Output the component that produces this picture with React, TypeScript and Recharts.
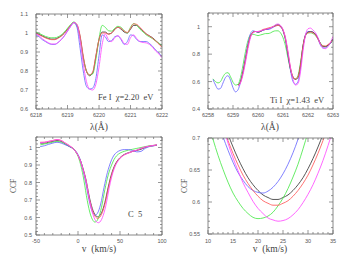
import React from "react";
import { LineChart, Line, XAxis, YAxis } from "recharts";

const FRAME = "#6b6b6b";
const COLORS = {
  black: "#3a3a3a",
  red: "#ff5a5a",
  green: "#4ce84c",
  blue: "#6a6aff",
  magenta: "#ff4cff",
};

// evenly spaced sampling grid (x positions only)
function grid(start: number, count: number, step: number) {
  return Array.from({ length: count }, (_, i) => Math.round((start + i * step) * 1000) / 1000);
}
function tickList(lo: number, hi: number, step: number) {
  return grid(lo, Math.round((hi - lo) / step) + 1, step);
}

// ---- Fe I 6219.3 panel ----
const FE_WL = grid(6218, 41, 0.1);
const FE_BLACK = [
  1.0, 0.993, 0.985, 0.977, 0.971, 0.968, 0.968, 0.975, 0.985, 1.0,
  1.02, 1.04, 1.055, 1.04, 0.98, 0.87, 0.8, 0.775, 0.79, 0.875,
  0.965, 1.005, 1.005, 0.995, 1.0, 1.02, 1.03, 1.02, 1.005, 1.0,
  1.02, 1.04, 1.04, 1.025, 1.01, 0.995, 0.985, 0.975, 0.96, 0.945,
  0.928,
];
const FE_RED = [
  0.998, 0.99, 0.982, 0.974, 0.968, 0.965, 0.965, 0.972, 0.983, 0.998,
  1.018, 1.04, 1.055, 1.045, 0.985, 0.88, 0.8, 0.78, 0.795, 0.88,
  0.965, 1.0, 1.0, 0.993, 1.0, 1.018, 1.03, 1.025, 1.01, 1.003,
  1.025, 1.048, 1.045, 1.03, 1.012, 0.995, 0.985, 0.972, 0.958, 0.942,
  0.925,
];
const FE_GREEN = [
  1.005, 0.998, 0.99, 0.982, 0.977, 0.975, 0.975, 0.98, 0.99, 1.005,
  1.025, 1.045, 1.058, 1.04, 0.97, 0.87, 0.8, 0.78, 0.785, 0.86,
  0.97, 1.04, 1.03, 1.012, 1.01, 1.025, 1.035, 1.03, 1.012, 1.0,
  1.03, 1.05, 1.04, 1.02, 1.005, 0.99, 0.98, 0.97, 0.957, 0.946,
  0.935,
];
const FE_BLUE = [
  0.99, 0.98, 0.965, 0.955, 0.945, 0.94, 0.94, 0.95, 0.965, 0.985,
  1.01, 1.035, 1.055, 1.03, 0.92, 0.8, 0.72, 0.705, 0.71, 0.76,
  0.88, 0.99, 0.98, 0.955, 0.96, 0.98, 0.985, 0.965, 0.94, 0.955,
  0.99, 0.985, 0.965, 0.955, 0.955, 0.955, 0.945, 0.93, 0.91, 0.895,
  0.875,
];
const FE_MAGENTA = [
  0.995, 0.985, 0.97, 0.958, 0.948, 0.942, 0.942, 0.95, 0.965, 0.985,
  1.01, 1.035, 1.055, 1.045, 0.96, 0.84, 0.745, 0.705, 0.7, 0.73,
  0.82, 0.94, 0.995, 0.965, 0.955, 0.975, 0.985, 0.97, 0.945, 0.94,
  0.975, 0.99, 0.97, 0.955, 0.95, 0.948, 0.94, 0.925, 0.905, 0.89,
  0.87,
];

// ---- Ti I 6261.1 panel ----
const TI_WL = grid(6258.2, 49, 0.1);
const TI_WL_LATE = grid(6259.2, 39, 0.1);
const TI_BLUE = [
  0.615, 0.575, 0.545, 0.55, 0.59, 0.63, 0.643, 0.61, 0.555, 0.525,
  0.54, 0.595, 0.68, 0.78, 0.88, 0.95, 0.97, 0.965, 0.96, 0.965,
  0.975, 0.98, 0.98, 0.985, 0.995, 1.005, 1.01, 1.0, 0.97, 0.9,
  0.79, 0.68, 0.6, 0.58, 0.6, 0.7, 0.85, 0.94, 0.965, 0.965,
  0.96, 0.945, 0.91, 0.865, 0.845, 0.845, 0.86, 0.88, 0.91,
];
const TI_GREEN = [
  0.62, 0.6, 0.59, 0.6, 0.635, 0.66, 0.665, 0.635, 0.595, 0.575,
  0.58, 0.63, 0.72, 0.82, 0.9, 0.94, 0.945, 0.94, 0.935, 0.94,
  0.945, 0.95, 0.95, 0.955, 0.965, 0.97, 0.97, 0.955, 0.92, 0.86,
  0.77, 0.69, 0.635, 0.62, 0.645, 0.74, 0.86, 0.935, 0.955, 0.955,
  0.95, 0.935, 0.91, 0.88, 0.86, 0.855, 0.865, 0.88, 0.9,
];
const TI_BLACK = [
  0.575, 0.6, 0.67, 0.76, 0.86, 0.93, 0.96, 0.965, 0.96, 0.965,
  0.975, 0.98, 0.985, 0.99, 1.0, 1.01, 1.015, 1.005, 0.975, 0.91,
  0.8, 0.69, 0.63, 0.615, 0.63, 0.72, 0.86, 0.94, 0.96, 0.965,
  0.96, 0.945, 0.915, 0.875, 0.855, 0.855, 0.865, 0.88, 0.91,
];
const TI_RED = [
  0.57, 0.595, 0.665, 0.76, 0.86, 0.93, 0.96, 0.965, 0.965, 0.97,
  0.98, 0.985, 0.99, 0.995, 1.0, 1.005, 1.01, 1.0, 0.975, 0.91,
  0.81, 0.7, 0.635, 0.62, 0.635, 0.72, 0.855, 0.935, 0.955, 0.96,
  0.955, 0.94, 0.91, 0.875, 0.86, 0.86, 0.87, 0.885, 0.905,
];
const TI_MAGENTA = [
  0.565, 0.59, 0.65, 0.74, 0.84, 0.92, 0.955, 0.965, 0.965, 0.97,
  0.975, 0.98, 0.985, 0.99, 1.0, 1.015, 1.02, 1.01, 0.98, 0.92,
  0.82, 0.7, 0.615, 0.575, 0.585, 0.67, 0.82, 0.94, 0.985, 0.99,
  0.975, 0.955, 0.92, 0.87, 0.845, 0.84, 0.855, 0.885, 0.93,
];

// ---- CCF (both lower panels) ----
const CCF_V = [
  -45, -40, -35, -30, -25, -20, -15, -10, -5, 0, 3, 6, 8,
  10, 11, 12, 13, 14, 15, 16, 17, 18, 19, 20, 21, 22, 23, 24, 25, 26, 27, 28, 29, 30, 31, 32, 33, 34, 35,
  37, 40, 43, 46, 50, 55, 60, 65, 70, 75, 80, 85, 90, 94,
];
const CCF_BLACK = [
  1.025, 1.025, 1.03, 1.035, 1.04, 1.035, 1.02, 1.005, 0.99, 0.955, 0.925, 0.88, 0.845,
  0.805, 0.779, 0.754, 0.729, 0.706, 0.686, 0.668, 0.652, 0.638, 0.627, 0.618, 0.611, 0.607,
  0.604, 0.604, 0.607, 0.611, 0.618, 0.627, 0.638, 0.652, 0.668, 0.686, 0.706, 0.729, 0.752,
  0.795, 0.85, 0.89, 0.918, 0.942, 0.96, 0.97, 0.978, 0.983, 0.99, 1.0, 1.007, 1.01, 1.013,
];
const CCF_RED = [
  1.03, 1.03, 1.035, 1.04, 1.045, 1.04, 1.025, 1.01, 0.99, 0.955, 0.922, 0.875, 0.84,
  0.797, 0.77, 0.743, 0.718, 0.696, 0.676, 0.658, 0.642, 0.629, 0.618, 0.609, 0.602, 0.598,
  0.595, 0.595, 0.598, 0.602, 0.609, 0.618, 0.629, 0.642, 0.658, 0.676, 0.696, 0.718, 0.741,
  0.785, 0.842, 0.885, 0.915, 0.94, 0.958, 0.968, 0.978, 0.985, 0.995, 1.003, 1.008, 1.012, 1.015,
];
const CCF_GREEN = [
  1.015, 1.02, 1.025, 1.03, 1.035, 1.03, 1.02, 1.005, 0.99, 0.95, 0.905, 0.84, 0.785,
  0.725, 0.698, 0.673, 0.651, 0.631, 0.614, 0.601, 0.59, 0.582, 0.576, 0.574, 0.575, 0.578,
  0.584, 0.594, 0.606, 0.621, 0.639, 0.659, 0.683, 0.709, 0.735, 0.76, 0.783, 0.805, 0.825,
  0.86, 0.9, 0.932, 0.953, 0.968, 0.978, 0.985, 0.99, 0.995, 1.0, 1.005, 1.01, 1.012, 1.015,
];
const CCF_BLUE = [
  1.005, 1.01, 1.018, 1.025, 1.03, 1.025, 1.015, 1.005, 0.99, 0.96, 0.925, 0.87, 0.825,
  0.78, 0.752, 0.726, 0.702, 0.681, 0.662, 0.646, 0.634, 0.624, 0.618, 0.615, 0.614, 0.617,
  0.623, 0.632, 0.644, 0.659, 0.677, 0.698, 0.722, 0.748, 0.772, 0.795, 0.817, 0.838, 0.857,
  0.89, 0.93, 0.957, 0.972, 0.983, 0.988, 0.988, 0.983, 0.975, 0.978, 0.995, 1.005, 1.01, 1.015,
];
const CCF_MAGENTA = [
  1.028, 1.03, 1.035, 1.04, 1.045, 1.04, 1.025, 1.01, 0.99, 0.955, 0.922, 0.875, 0.84,
  0.8, 0.772, 0.745, 0.718, 0.692, 0.669, 0.649, 0.63, 0.615, 0.601, 0.59, 0.582, 0.575,
  0.572, 0.57, 0.571, 0.574, 0.58, 0.588, 0.599, 0.612, 0.627, 0.645, 0.665, 0.688, 0.713,
  0.765, 0.83, 0.878, 0.91, 0.938, 0.958, 0.968, 0.978, 0.985, 0.995, 1.003, 1.008, 1.012, 1.015,
];

// major (labelled) ticks
const FE_X_MAJOR = [6218, 6219, 6220, 6221, 6222];
const FE_Y_MAJOR = [0.6, 0.7, 0.8, 0.9, 1, 1.1];
const TI_X_MAJOR = [6258, 6259, 6260, 6261, 6262, 6263];
const TI_Y_MAJOR = [0.4, 0.6, 0.8, 1];
const CCF_X_MAJOR = [-50, 0, 50, 100];
const CCF_Y_MAJOR = [0.5, 0.6, 0.7, 0.8, 0.9, 1];
const ZOOM_X_MAJOR = [10, 15, 20, 25, 30, 35];
const ZOOM_Y_MAJOR = [0.55, 0.6, 0.65, 0.7];

type Pt = { x: number; y: number };
const pts = (xs: number[], ys: number[]): Pt[] => xs.map((x, i) => ({ x, y: ys[i] }));

const tickFont = { fontSize: 5.5, fill: "#555", fontFamily: "'Liberation Sans', Arial, sans-serif" };

function Tick(props: any) {
  const { x, y, payload, side, majors, gap } = props;
  const v = payload.value as number;
  const major = majors.some((m: number) => Math.abs(m - v) < 1e-6);
  const len = major ? 4 : 2;
  const txt = String(Math.round(v * 1000) / 1000);
  const stroke = { stroke: FRAME, strokeWidth: 0.7 };
  if (side === "bottom")
    return (
      <g>
        <line x1={x} y1={y} x2={x} y2={y - len} {...stroke} />
        {major && (
          <text x={x} y={y + gap} textAnchor="middle" dominantBaseline="central" {...tickFont}>
            {txt}
          </text>
        )}
      </g>
    );
  if (side === "top") return <line x1={x} y1={y} x2={x} y2={y + len} {...stroke} />;
  if (side === "left")
    return (
      <g>
        <line x1={x} y1={y} x2={x + len} y2={y} {...stroke} />
        {major && (
          <text x={x - gap} y={y} textAnchor="end" dominantBaseline="central" {...tickFont}>
            {txt}
          </text>
        )}
      </g>
    );
  return <line x1={x} y1={y} x2={x - len} y2={y} {...stroke} />;
}

type Series = { name: string; color: string; data: Pt[] };

function Panel(props: {
  left: number;
  top: number;
  plot: { l: number; t: number; r: number; b: number };
  xDomain: [number, number];
  yDomain: [number, number];
  xMajor: number[];
  yMajor: number[];
  xStep: number;
  yStep: number;
  xGap: number;
  yGap: number;
  series: Series[];
}) {
  const W = 177;
  const H = 132;
  const { plot } = props;
  const xTicks = tickList(props.xDomain[0], props.xDomain[1], props.xStep);
  const yTicks = tickList(props.yDomain[0], props.yDomain[1], props.yStep);
  const common = { type: "number" as const, allowDataOverflow: true, interval: 0 as const, tickSize: 0, tickMargin: 0, tickLine: false, axisLine: { stroke: FRAME, strokeWidth: 0.8 } };
  return (
    <div style={{ position: "absolute", left: props.left, top: props.top }}>
      <LineChart width={W} height={H} margin={{ top: 0, right: 0, bottom: 0, left: 0 }}>
        <XAxis
          {...common}
          xAxisId="b"
          dataKey="x"
          domain={props.xDomain}
          ticks={xTicks}
          height={H - plot.b}
          tick={(p: any) => <Tick {...p} side="bottom" majors={props.xMajor} gap={props.xGap} />}
        />
        <XAxis
          {...common}
          xAxisId="t"
          orientation="top"
          dataKey="x"
          domain={props.xDomain}
          ticks={xTicks}
          height={plot.t}
          tick={(p: any) => <Tick {...p} side="top" majors={props.xMajor} gap={0} />}
        />
        <YAxis
          {...common}
          yAxisId="l"
          domain={props.yDomain}
          ticks={yTicks}
          width={plot.l}
          tick={(p: any) => <Tick {...p} side="left" majors={props.yMajor} gap={props.yGap} />}
        />
        <YAxis
          {...common}
          yAxisId="r"
          orientation="right"
          domain={props.yDomain}
          ticks={yTicks}
          width={W - plot.r}
          tick={(p: any) => <Tick {...p} side="right" majors={props.yMajor} gap={0} />}
        />
        {props.series.map((s) => (
          <Line
            key={s.name}
            xAxisId="b"
            yAxisId="l"
            data={s.data}
            dataKey="y"
            type="monotone"
            stroke={s.color}
            strokeWidth={0.85}
            dot={false}
            activeDot={false}
            isAnimationActive={false}
          />
        ))}
      </LineChart>
    </div>
  );
}

const feSeries: Series[] = [
  { name: "black", color: COLORS.black, data: pts(FE_WL, FE_BLACK) },
  { name: "green", color: COLORS.green, data: pts(FE_WL, FE_GREEN) },
  { name: "red", color: COLORS.red, data: pts(FE_WL, FE_RED) },
  { name: "blue", color: COLORS.blue, data: pts(FE_WL, FE_BLUE) },
  { name: "magenta", color: COLORS.magenta, data: pts(FE_WL, FE_MAGENTA) },
];
const tiSeries: Series[] = [
  { name: "green", color: COLORS.green, data: pts(TI_WL, TI_GREEN) },
  { name: "blue", color: COLORS.blue, data: pts(TI_WL, TI_BLUE) },
  { name: "black", color: COLORS.black, data: pts(TI_WL_LATE, TI_BLACK) },
  { name: "red", color: COLORS.red, data: pts(TI_WL_LATE, TI_RED) },
  { name: "magenta", color: COLORS.magenta, data: pts(TI_WL_LATE, TI_MAGENTA) },
];
const ccfSeries: Series[] = [
  { name: "black", color: COLORS.black, data: pts(CCF_V, CCF_BLACK) },
  { name: "green", color: COLORS.green, data: pts(CCF_V, CCF_GREEN) },
  { name: "blue", color: COLORS.blue, data: pts(CCF_V, CCF_BLUE) },
  { name: "red", color: COLORS.red, data: pts(CCF_V, CCF_RED) },
  { name: "magenta", color: COLORS.magenta, data: pts(CCF_V, CCF_MAGENTA) },
];

const serif = "'Liberation Serif', 'DejaVu Serif', serif";

export default function App() {
  return (
    <div style={{ position: "absolute", left: 0, top: 0, width: 354, height: 264, background: "#fff" }}>
      <Panel
        left={0}
        top={0}
        plot={{ l: 36, t: 14, r: 162, b: 109 }}
        xDomain={[6218, 6222]}
        yDomain={[0.6, 1.1]}
        xMajor={FE_X_MAJOR}
        yMajor={FE_Y_MAJOR}
        xStep={0.2}
        yStep={0.02}
        xGap={5.5}
        yGap={8}
        series={feSeries}
      />
      <Panel
        left={177}
        top={0}
        plot={{ l: 31, t: 13, r: 156, b: 109 }}
        xDomain={[6258, 6263]}
        yDomain={[0.4, 1.1]}
        xMajor={TI_X_MAJOR}
        yMajor={TI_Y_MAJOR}
        xStep={0.2}
        yStep={0.05}
        xGap={5.5}
        yGap={8}
        series={tiSeries}
      />
      <Panel
        left={0}
        top={132}
        plot={{ l: 36, t: 5, r: 162, b: 103 }}
        xDomain={[-50, 100]}
        yDomain={[0.5, 1.06]}
        xMajor={CCF_X_MAJOR}
        yMajor={CCF_Y_MAJOR}
        xStep={10}
        yStep={0.02}
        xGap={6}
        yGap={4}
        series={ccfSeries}
      />
      <Panel
        left={177}
        top={132}
        plot={{ l: 31, t: 6, r: 156, b: 102 }}
        xDomain={[10, 35]}
        yDomain={[0.55, 0.7]}
        xMajor={ZOOM_X_MAJOR}
        yMajor={ZOOM_Y_MAJOR}
        xStep={1}
        yStep={0.01}
        xGap={6.5}
        yGap={8}
        series={ccfSeries}
      />
      <svg width={354} height={264} style={{ position: "absolute", left: 0, top: 0, pointerEvents: "none" }}>
        <g fontFamily={serif} fill="#444">
          <text x={99} y={127} fontSize={9.5} textAnchor="middle" dominantBaseline="central">λ(Å)</text>
          <text x={270} y={127} fontSize={9.5} textAnchor="middle" dominantBaseline="central">λ(Å)</text>
          <text x={99} y={249} fontSize={9.5} textAnchor="middle" dominantBaseline="central" style={{ whiteSpace: "pre" }}>v  (km/s)</text>
          <text x={270} y={249} fontSize={9.5} textAnchor="middle" dominantBaseline="central" style={{ whiteSpace: "pre" }}>v  (km/s)</text>
          <text x={13} y={186} fontSize={7.5} textAnchor="middle" dominantBaseline="central" transform="rotate(-90 13 186)">CCF</text>
          <text x={184} y={186} fontSize={7.5} textAnchor="middle" dominantBaseline="central" transform="rotate(-90 184 186)">CCF</text>
          <text x={98} y={97} fontSize={8.5} dominantBaseline="central" style={{ whiteSpace: "pre" }}>Fe I  χ=2.20  eV</text>
          <text x={270} y={99.5} fontSize={8.5} dominantBaseline="central" style={{ whiteSpace: "pre" }}>Ti I  χ=1.43  eV</text>
          <text x={128} y={214} fontSize={8.5} dominantBaseline="central" style={{ whiteSpace: "pre" }}>C  5</text>
        </g>
      </svg>
    </div>
  );
}
